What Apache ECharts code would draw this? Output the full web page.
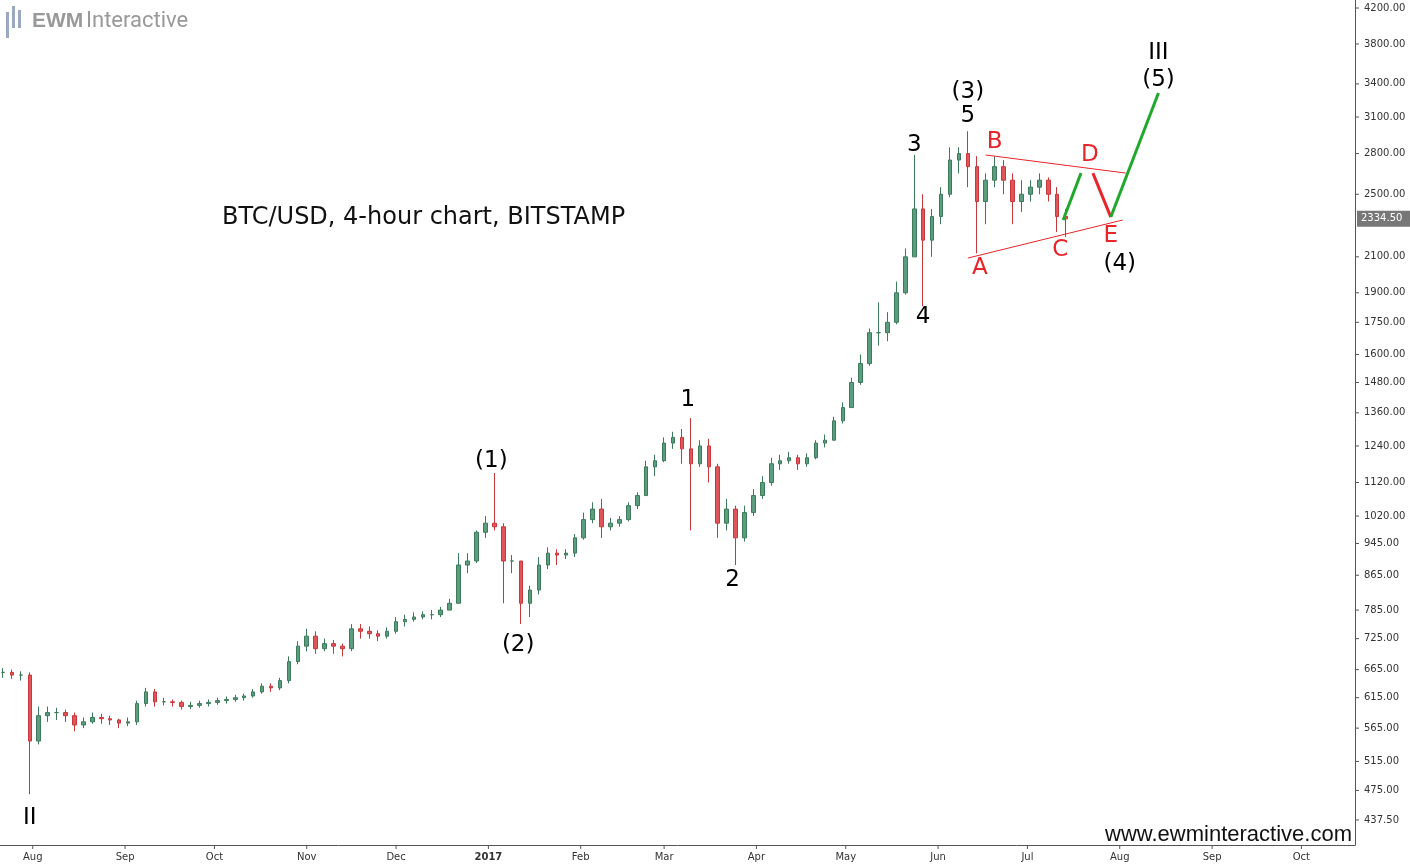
<!DOCTYPE html>
<html><head><meta charset="utf-8">
<script src="https://cdn.jsdelivr.net/npm/echarts@6/dist/echarts.min.js"></script>
<style>html,body{margin:0;padding:0;background:#fff}#c{width:1410px;height:864px}</style>
</head><body><div id="c"></div>
<script>
// 3-day candles from 2016-07-22
const startDate = '2016-07-22';
const stepDays = 3;
const closes = [660,655,655,545,585,590,590,585,570,575,582,580,578,573,575,605,625,608,608,607,600,602,605,607,610,612,615,618,625,635,632,645,680,710,730,705,715,710,705,745,740,735,730,740,760,765,770,775,775,785,800,890,900,975,1000,990,900,900,800,830,890,920,915,920,960,1010,1040,990,1000,1010,1050,1080,1170,1190,1250,1270,1230,1180,1240,1170,1000,1040,960,1030,1080,1120,1180,1190,1200,1180,1200,1250,1260,1330,1380,1480,1560,1700,1700,1750,1900,2100,2400,2200,2350,2500,2750,2800,2700,2450,2600,2700,2600,2450,2500,2550,2600,2500,2350,2334.5];
const highs = [668,665,662,660,600,600,598,595,590,582,590,588,585,580,582,610,632,630,615,612,610,608,610,612,615,617,620,622,630,640,640,650,690,720,745,740,725,722,715,755,755,750,742,748,770,775,780,782,785,792,810,920,920,980,1020,1150,1000,915,900,840,910,935,930,930,970,1030,1060,1070,1015,1020,1060,1090,1190,1210,1270,1290,1300,1340,1260,1265,1180,1070,1050,1050,1100,1140,1200,1210,1220,1210,1215,1260,1280,1345,1400,1500,1600,1720,1850,1800,1960,2150,2790,2500,2400,2550,2850,2850,2980,2780,2650,2780,2750,2650,2600,2600,2650,2620,2550,2400];
const lows = [650,648,645,470,540,575,578,575,560,565,572,572,570,565,568,570,600,600,602,600,595,596,598,600,603,605,608,610,615,622,625,628,640,675,700,695,700,695,690,700,725,725,720,725,735,750,760,765,765,770,785,800,870,895,960,980,800,870,755,770,820,880,890,905,910,955,1000,960,980,990,1005,1040,1080,1140,1185,1230,1180,980,1170,1120,960,980,890,950,1020,1070,1110,1160,1180,1160,1170,1195,1235,1260,1320,1380,1470,1550,1640,1660,1740,1890,2100,1830,2100,2300,2480,2650,2550,2120,2300,2550,2500,2300,2380,2450,2500,2450,2250,2220];
const firstOpen = 660;
const yTicks = [437.5,475,515,565,615,665,725,785,865,945,1020,1120,1240,1360,1480,1600,1750,1900,2100,2500,2800,3100,3400,3800,4200];
const monthTicks = ['2016-08-01','2016-09-01','2016-10-01','2016-11-01','2016-12-01','2017-01-01','2017-02-01','2017-03-01','2017-04-01','2017-05-01','2017-06-01','2017-07-01','2017-08-01','2017-09-01','2017-10-01'];
const lastPrice = 2334.5;
// annotations: [text, date, price, color]
const waveLabels = [
 ['II','2016-07-31',440,'#000'],['(1)','2017-01-02',1189,'#000'],['(2)','2017-01-11',712,'#000'],
 ['1','2017-03-09',1410,'#000'],['2','2017-03-24',853,'#000'],['3','2017-05-24',2868,'#000'],
 ['4','2017-05-27',1776,'#000'],['5','2017-06-11',3109,'#000'],['(3)','2017-06-11',3324,'#000'],
 ['A','2017-06-15',2036,'#e8252a'],['B','2017-06-20',2892,'#e8252a'],['C','2017-07-12',2140,'#e8252a'],
 ['D','2017-07-22',2789,'#e8252a'],['E','2017-07-29',2226,'#e8252a'],['(4)','2017-08-01',2058,'#000'],
 ['III','2017-08-14',3705,'#000'],['(5)','2017-08-14',3437,'#000']
];
const lineUpper = [['2017-06-17',2789],['2017-08-03',2652]];
const lineLower = [['2017-06-11',2093],['2017-08-02',2327]];
const greenA = [['2017-07-13',2327],['2017-07-19',2652]];
const redB = [['2017-07-23',2652],['2017-07-29',2346]];
const greenC = [['2017-07-29',2346],['2017-08-14',3314]];

const DAY = 86400000;
const ts = s => new Date(s+'T00:00:00Z').getTime();
const t0 = ts(startDate);
const candles = closes.map((c,i)=>{
  const o = i===0 ? firstOpen : closes[i-1];
  return [t0+i*stepDays*DAY, o, c, lows[i], highs[i]];
});
const toXY = arr => arr.map(p=>[ts(p[0]),p[1]]);
const MON=['Jan','Feb','Mar','Apr','May','Jun','Jul','Aug','Sep','Oct','Nov','Dec'];
const chart = echarts.init(document.getElementById('c'));
chart.setOption({
  animation:false,
  grid:{left:0,right:55,top:0,bottom:19},
  xAxis:{type:'time',min:ts('2016-07-21'),max:ts('2017-10-19'),
    axisLine:{lineStyle:{color:'#555'}},splitLine:{show:false},
    axisTick:{show:false},axisLabel:{show:false}},
  yAxis:{type:'log',logBase:10,min:408,max:4295,position:'right',
    axisLine:{show:true,lineStyle:{color:'#555'}},splitLine:{show:false},
    axisTick:{show:false},axisLabel:{show:false}},
  series:[
    {type:'candlestick',data:candles,barWidth:4,
     itemStyle:{color:'#5b9e7f',color0:'#e0555a',borderColor:'#3d7a5c',borderColor0:'#c8373c',borderWidth:1}},
    {type:'line',data:toXY(lineUpper),symbol:'none',lineStyle:{color:'#e8252a',width:1},z:5},
    {type:'line',data:toXY(lineLower),symbol:'none',lineStyle:{color:'#e8252a',width:1},z:5},
    {type:'line',data:toXY(greenA),symbol:'none',lineStyle:{color:'#1fa82c',width:3},z:5},
    {type:'line',data:toXY(redB),symbol:'none',lineStyle:{color:'#e8252a',width:3},z:5},
    {type:'line',data:toXY(greenC),symbol:'none',lineStyle:{color:'#1fa82c',width:3},z:5}
  ]
});
const g=[];
const px = (t,v)=>chart.convertToPixel({gridIndex:0},[t,v]);
monthTicks.forEach(m=>{
  const t=ts(m), d=new Date(t), p=px(t,500);
  const lbl = d.getUTCMonth()===0?String(d.getUTCFullYear()):MON[d.getUTCMonth()];
  g.push({type:'line',shape:{x1:p[0],y1:845,x2:p[0],y2:849},style:{stroke:'#555'}});
  g.push({type:'text',x:p[0],y:857,style:{text:lbl,fill:'#333',font:(lbl==='2017'?'bold ':'')+'10px "DejaVu Sans"',align:'center',verticalAlign:'middle'}});
});
yTicks.forEach(v=>{
  const p=px(t0,v);
  g.push({type:'line',shape:{x1:1355,y1:p[1],x2:1359,y2:p[1]},style:{stroke:'#555'}});
  g.push({type:'text',x:1364,y:p[1],style:{text:v.toFixed(2),fill:'#333',font:'10px "DejaVu Sans"',verticalAlign:'middle'}});
});
waveLabels.forEach(w=>{
  const p=px(ts(w[1]),w[2]);
  g.push({type:'text',x:p[0],y:p[1],style:{text:w[0],fill:w[3],font:'23px "DejaVu Sans"',align:'center',verticalAlign:'middle'},z:10});
});
const lp=px(t0,lastPrice);
g.push({type:'rect',shape:{x:1357,y:lp[1]-8,width:53,height:16},style:{fill:'#777'},z:10});
g.push({type:'text',x:1361,y:lp[1],style:{text:lastPrice.toFixed(2),fill:'#fff',font:'10px "DejaVu Sans"',verticalAlign:'middle'},z:11});
g.push({type:'text',x:222,y:218,style:{text:'BTC/USD, 4-hour chart, BITSTAMP',fill:'#111',font:'24px "DejaVu Sans"',verticalAlign:'middle'}});
g.push({type:'text',x:1352,y:835,style:{text:'www.ewminteractive.com',fill:'#111',font:'22px "Liberation Sans"',align:'right',verticalAlign:'middle'}});
g.push({type:'rect',shape:{x:6,y:12,width:3,height:26},style:{fill:'#9aa8c0'}});
g.push({type:'rect',shape:{x:12,y:6,width:3,height:22},style:{fill:'#9aa8c0'}});
g.push({type:'rect',shape:{x:18,y:10,width:3,height:18},style:{fill:'#9aa8c0'}});
g.push({type:'text',x:32,y:21,style:{text:'EWM',fill:'#999',font:'bold 21px "Liberation Sans"',verticalAlign:'middle'}});
g.push({type:'text',x:86,y:21,style:{text:'Interactive',fill:'#999',font:'22px "Roboto"',verticalAlign:'middle'}});
chart.setOption({graphic:g});
</script></body></html>
